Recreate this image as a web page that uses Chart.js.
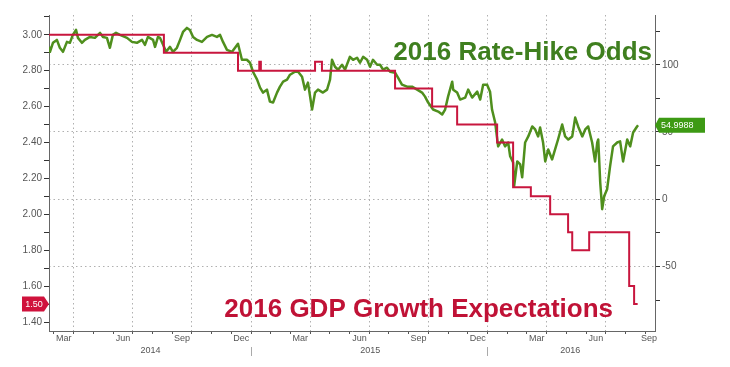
<!DOCTYPE html>
<html>
<head>
<meta charset="utf-8">
<script src="https://cdn.jsdelivr.net/npm/chart.js@4.4.1/dist/chart.umd.min.js"></script>
<style>
    html, body { margin: 0; padding: 0; background: #fff; }
    #wrap { width: 730px; height: 367px; }
</style>
</head>
<body>
<div id="wrap"><canvas id="myChart" width="730" height="367"></canvas></div>
<script>
// x = months since 1 Jan 2014 (3 = end of Mar 2014)
let xMin = 1.75,
    xMax = 32.5;

// 2016 GDP growth expectations (left axis), step changes
let gdpX = [1.75, 7.58, 11.34, 12.42, 12.50, 15.25, 15.60, 19.31, 21.19, 22.46, 24.49, 25.30, 26.20, 27.18, 28.09, 28.30, 29.16, 31.19, 31.44, 31.62],
    gdpY = [3.00, 2.90, 2.80, 2.85, 2.80, 2.85, 2.80, 2.70, 2.60, 2.50, 2.40, 2.15, 2.10, 2.00, 1.90, 1.80, 1.90, 1.60, 1.50, 1.50];

// 2016 rate-hike odds (right axis)
let oddsX = [1.75, 1.80, 1.95, 2.15, 2.30, 2.46, 2.66, 2.81, 2.96, 3.12, 3.22, 3.42, 3.57, 3.83, 4.08, 4.34, 4.49, 4.69, 4.84, 4.99,
             5.15, 5.35, 5.71, 5.96, 6.21, 6.47, 6.62, 6.77, 7.03, 7.13, 7.28, 7.38, 7.54, 7.69, 7.89, 8.04, 8.24, 8.40, 8.55, 8.75,
             8.90, 9.06, 9.26, 9.51, 9.77, 10.02, 10.27, 10.43, 10.58, 10.78, 11.04, 11.34, 11.54, 11.79, 11.95, 12.10, 12.31, 12.46, 12.61, 12.81,
             12.96, 13.12, 13.32, 13.47, 13.63, 13.83, 13.98, 14.23, 14.39, 14.59, 14.74, 14.89, 15.10, 15.25, 15.40, 15.65, 15.86, 16.01, 16.11, 16.26,
             16.42, 16.62, 16.77, 17.02, 17.18, 17.38, 17.53, 17.69, 17.89, 18.04, 18.19, 18.40, 18.55, 18.70, 18.90, 19.06, 19.31, 19.46, 19.66, 19.92,
             20.17, 20.43, 20.68, 20.83, 20.99, 21.24, 21.50, 21.70, 21.85, 22.00, 22.21, 22.26, 22.46, 22.61, 22.87, 23.02, 23.22, 23.48, 23.63, 23.78,
             23.98, 24.13, 24.23, 24.39, 24.54, 24.74, 24.89, 25.05, 25.15, 25.30, 25.35, 25.51, 25.66, 25.76, 25.91, 26.07, 26.27, 26.42, 26.57, 26.67,
             26.82, 26.93, 27.08, 27.28, 27.43, 27.58, 27.79, 27.94, 28.10, 28.30, 28.45, 28.60, 28.81, 28.96, 29.11, 29.31, 29.46, 29.57, 29.62, 29.72,
             29.82, 29.92, 30.07, 30.22, 30.37, 30.58, 30.73, 30.88, 31.09, 31.24, 31.39, 31.59, 31.64],
    oddsY = [112.6, 109.6, 116.3, 118.5, 112.6, 109.6, 117.0, 116.3, 122.2, 125.9, 120.0, 116.3, 118.5, 120.7, 120.0, 123.7, 120.7, 120.0, 112.6, 122.2,
             123.7, 122.2, 120.0, 117.0, 116.3, 118.5, 114.8, 120.7, 118.5, 113.3, 120.7, 120.0, 114.8, 109.6, 113.3, 109.6, 112.6, 118.5, 124.4, 127.4,
             125.9, 120.7, 118.5, 117.0, 120.7, 122.2, 120.7, 122.2, 117.0, 111.1, 109.6, 115.6, 103.7, 103.7, 101.5, 94.8, 88.9, 83.0, 79.3, 81.5,
             72.6, 71.9, 79.3, 83.7, 87.4, 88.9, 92.6, 94.8, 94.8, 91.1, 81.5, 86.7, 66.7, 79.3, 81.5, 79.3, 81.5, 88.9, 103.7, 98.5,
             96.3, 100.0, 96.3, 105.9, 103.7, 105.2, 101.5, 105.9, 103.7, 98.5, 103.7, 100.0, 100.0, 96.3, 97.8, 94.8, 94.1, 90.4, 85.2, 83.7,
             83.7, 81.5, 79.3, 76.3, 71.9, 66.7, 65.2, 63.0, 66.7, 76.3, 87.4, 81.5, 79.3, 74.1, 75.6, 81.5, 75.6, 80.0, 74.1, 85.2,
             85.2, 80.0, 66.7, 57.0, 39.3, 44.4, 39.3, 42.2, 31.9, 27.4, 9.6, 28.1, 25.9, 16.3, 42.2, 46.7, 54.1, 51.9, 46.7, 53.3,
             42.2, 28.1, 37.0, 29.6, 37.0, 44.4, 55.6, 46.7, 44.4, 46.7, 60.7, 54.1, 46.7, 51.9, 54.1, 42.2, 28.1, 42.2, 44.4, 12.6,
             -7.4, 2.2, 7.4, 24.4, 39.3, 42.2, 43.0, 28.1, 44.4, 39.3, 49.6, 54.1, 54.9988];

// ticks and labels
let monthTicks = [2, 3, 4, 5, 6, 7, 8, 9, 10, 11, 12, 13, 14, 15, 16, 17, 18, 19, 20, 21, 22, 23, 24, 25, 26, 27, 28, 29, 30, 31, 32],
    monthLabelPos = [2.5, 5.5, 8.5, 11.5, 14.5, 17.5, 20.5, 23.5, 26.5, 29.5, 32.2],
    monthLabels = ["Mar", "Jun", "Sep", "Dec", "Mar", "Jun", "Sep", "Dec", "Mar", "Jun", "Sep"],
    yearPos = [6.9, 12, 18.05, 24, 28.2],
    yearLabels = ["2014", "", "2015", "", "2016"],
    leftTicks = [1.4, 1.5, 1.6, 1.7, 1.8, 1.9, 2.0, 2.1, 2.2, 2.3, 2.4, 2.5, 2.6, 2.7, 2.8, 2.9, 3.0, 3.1],
    leftLabels = ["1.40", "", "1.60", "", "1.80", "", "2.00", "", "2.20", "", "2.40", "", "2.60", "", "2.80", "", "3.00", ""],
    rightTicks = [-75, -50, -25, 0, 25, 50, 75, 100, 125],
    rightLabels = ["", "-50", "", "0", "", "50", "", "100", ""];

let titleOdds = "2016 Rate-Hike Odds",
    titleGdp = "2016 GDP Growth Expectations";

let gridGray = "#b0b0b0",
    clear = "rgba(0,0,0,0)";

Chart.defaults.font.family = '"Liberation Sans", Arial, sans-serif';
Chart.defaults.color = "#555";

function toPoints(xs, ys) {
    let out = [];
    for (let i = 0; i < xs.length; i++)
        out.push({ x: xs[i], y: ys[i] });
    return out;
}

//etichette e box disegnati sopra le linee
let overlay = {
    id: "overlay",
    afterDatasetsDraw(chart) {
        let ctx = chart.ctx,
            area = chart.chartArea,
            yL = chart.scales.yL,
            yR = chart.scales.yR;
        ctx.save();
        ctx.font = 'bold 26px "Liberation Sans", Arial, sans-serif';
        ctx.textBaseline = "alphabetic";
        ctx.fillStyle = "#3f7f1f";
        ctx.textAlign = "right";
        ctx.fillText(titleOdds, area.right - 3, area.top + 45);
        ctx.fillStyle = "#c01236";
        ctx.fillText(titleGdp, area.right - 42, area.bottom - 14);

        // last value boxes
        let gy = yL.getPixelForValue(gdpY[gdpY.length - 1]);
        ctx.fillStyle = "#d0123c";
        ctx.beginPath();
        ctx.moveTo(22, gy - 7.5);
        ctx.lineTo(area.left - 5, gy - 7.5);
        ctx.lineTo(area.left, gy);
        ctx.lineTo(area.left - 5, gy + 7.5);
        ctx.lineTo(22, gy + 7.5);
        ctx.closePath();
        ctx.fill();

        let oy = yR.getPixelForValue(oddsY[oddsY.length - 1]);
        ctx.fillStyle = "#3d9a14";
        ctx.beginPath();
        ctx.moveTo(area.right, oy);
        ctx.lineTo(area.right + 4, oy - 7.5);
        ctx.lineTo(705, oy - 7.5);
        ctx.lineTo(705, oy + 7.5);
        ctx.lineTo(area.right + 4, oy + 7.5);
        ctx.closePath();
        ctx.fill();

        ctx.font = '9px "Liberation Sans", Arial, sans-serif';
        ctx.fillStyle = "#fff";
        ctx.textBaseline = "middle";
        ctx.textAlign = "center";
        ctx.fillText(gdpY[gdpY.length - 1].toFixed(2), 34, gy + 0.5);
        ctx.textAlign = "left";
        ctx.fillText(oddsY[oddsY.length - 1].toFixed(4), area.right + 6, oy + 0.5);
        ctx.restore();
    }
};

let ctx = document.getElementById("myChart");
let myChart = new Chart(ctx, {
    type: "line",
    data: {
        datasets: [
            {
                label: titleGdp,
                data: toPoints(gdpX, gdpY),
                xAxisID: "x",
                yAxisID: "yL",
                borderColor: "#c8163e",
                borderWidth: 2,
                stepped: true,
                pointRadius: 0,
                fill: false
            },
            {
                label: titleOdds,
                data: toPoints(oddsX, oddsY),
                xAxisID: "x",
                yAxisID: "yR",
                borderColor: "#4f8f1d",
                borderWidth: 2.5,
                borderJoinStyle: "round",
                tension: 0,
                pointRadius: 0,
                fill: false
            }
        ]
    },
    options: {
        responsive: false,
        animation: false,
        layout: { padding: { top: 15, left: 0, right: 0, bottom: 0 } },
        plugins: { legend: { display: false }, tooltip: { enabled: false } },
        scales: {
            x: {
                type: "linear", position: "bottom", weight: 0,
                min: xMin, max: xMax,
                afterBuildTicks: s => { s.ticks = monthTicks.map(v => ({ value: v })); },
                afterFit: s => { s.height = 3; },
                ticks: { display: false },
                grid: {
                    color: c => (c.tick && c.tick.value % 3 === 0) ? gridGray : clear,
                    tickColor: "#555",
                    tickLength: 3,
                    lineWidth: 1
                },
                border: { display: true, color: "#666", width: 1, dash: [1.5, 3] }
            },
            xm: {
                type: "linear", position: "bottom", weight: 1,
                min: xMin, max: xMax,
                afterBuildTicks: s => { s.ticks = monthLabelPos.map(v => ({ value: v })); },
                afterFit: s => { s.height = 13; },
                grid: { display: false, drawTicks: false, tickLength: 0 },
                border: { display: false },
                ticks: {
                    autoSkip: false, maxRotation: 0, padding: -1,
                    color: "#555", font: { size: 9 },
                    callback: (v, i) => monthLabels[i]
                }
            },
            xy: {
                type: "linear", position: "bottom", weight: 2,
                min: xMin, max: xMax,
                afterBuildTicks: s => { s.ticks = yearPos.map(v => ({ value: v })); },
                afterFit: s => { s.height = 20; },
                grid: {
                    drawOnChartArea: false, tickLength: 9,
                    color: clear,
                    tickColor: c => (c.index !== undefined && yearLabels[c.index] === "") ? "#aaa" : clear
                },
                border: { display: false },
                ticks: {
                    autoSkip: false, maxRotation: 0, padding: -11,
                    color: "#555", font: { size: 9 },
                    callback: (v, i) => yearLabels[i]
                }
            },
            yL: {
                type: "linear", position: "left",
                min: 1.35, max: 3.11,
                afterBuildTicks: s => { s.ticks = leftTicks.map(v => ({ value: v })); },
                afterFit: s => { s.width = 49; },
                grid: { drawOnChartArea: false, tickLength: 5, tickColor: "#333" },
                border: { color: "#666", width: 1 },
                ticks: {
                    autoSkip: false, padding: 2, color: "#555", font: { size: 10 },
                    callback: (v, i) => leftLabels[i]
                }
            },
            yR: {
                type: "linear", position: "right",
                min: -98, max: 137,
                afterBuildTicks: s => { s.ticks = rightTicks.map(v => ({ value: v })); },
                afterFit: s => { s.width = 75; },
                grid: {
                    color: c => (c.index !== undefined && rightLabels[c.index] !== "") ? gridGray : clear,
                    tickLength: 5, tickColor: "#333", lineWidth: 1
                },
                border: { color: "#666", width: 1, dash: [1.5, 3] },
                ticks: {
                    autoSkip: false, padding: 2, color: "#555", font: { size: 10 },
                    callback: (v, i) => rightLabels[i]
                }
            }
        }
    },
    plugins: [overlay]
});
</script>
</body>
</html>
